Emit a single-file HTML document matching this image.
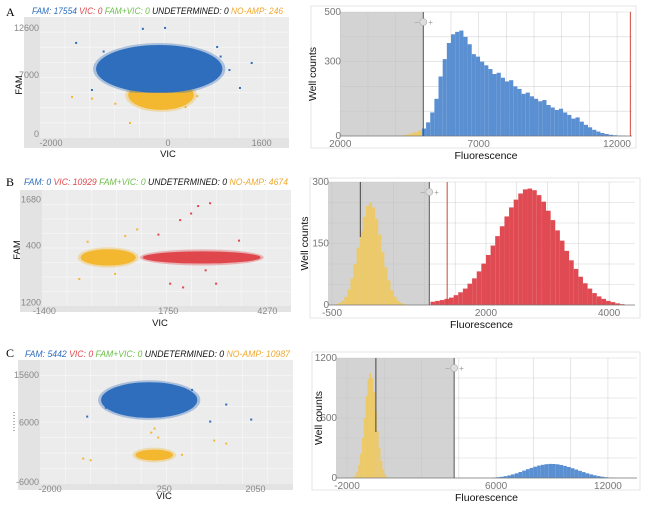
<!DOCTYPE html>
<html><head><meta charset="utf-8">
<style>
body{margin:0;background:#fff;}
svg{display:block;font-family:"Liberation Sans",Arial,sans-serif;}
</style></head>
<body>
<svg id="fig" width="647" height="508" viewBox="0 0 647 508" xmlns="http://www.w3.org/2000/svg">
<text x="6" y="16" font-family="Liberation Serif" font-size="12">A</text>
<text x="6" y="186" font-family="Liberation Serif" font-size="12">B</text>
<text x="6" y="357" font-family="Liberation Serif" font-size="12">C</text>
</svg>
<script>
// ---------- DATA ----------
// Row A scatter
const aTitleCounts = [17554, 0, 0, 0, 246];
const aScXTicks = [-2000, 0, 1600];
const aScYTicks = [0, 7000, 12600];
const aClusterBlue = [-150, 7730, 1080, 2850];   // cx, cy, rx, ry (data units)
const aClusterYellow = [-120, 4640, 560, 1780];
const aOutBlue = [[-1570,10820],[-430,12490],[-50,12600],[1430,8440],[1230,5470],[840,10340],[-1300,5230],[900,9200],[-1100,9800],[1050,7600]];
const aOutYellow = [[-1640,4400],[-650,1310],[-900,3600],[300,3200],[-1300,4200],[500,4500]];
// Row A histogram
const aHistXTicks = [2000, 7000, 12000];
const aHistYTicks = [0, 300, 500];
const aBlueStart = 4950, aBlueWidth = 150;
const aBlueCounts = [30,55,95,150,240,310,375,410,420,425,400,370,330,320,300,285,270,250,255,235,220,225,200,190,170,175,160,150,140,145,125,115,105,110,95,85,70,75,58,45,35,25,18,12,8,5,3,2,1];
const aYelStart = 4200, aYelWidth = 150;
const aYelCounts = [3,6,10,15,22];
// Row B scatter
const bTitleCounts = [0, 10929, 0, 0, 4674];
const bScXTicks = [-1400, 1750, 4270];
const bScYTickVals = [-1200, 400, 1680];
const bScYTickLabels = ["1200", "400", "1680"];
const bClusterYellow = [224, 60, 700, 230];
const bClusterRed = [2600, 60, 1500, 170];
const bOutRed = [[2509,1500],[2813,1579],[2331,1291],[2052,1107],[3549,531],[1798,-674],[2128,-779],[2965,-674],[2700,-300],[1500,700],[3900,100]];
const bOutYellow = [[960,845],[-512,-543],[656,662],[-300,500],[400,-400]];
// Row B histogram
const bHistXTicks = [-500, 2000, 4000];
const bHistYTicks = [0, 150, 300];
const bYelStart = -450, bYelWidth = 50;
const bYelCounts = [2,5,10,20,38,65,100,140,180,215,242,250,238,210,172,130,92,60,36,20,10,5,2,1];
const bRedStart = 1100, bRedWidth = 75;
const bRedCounts = [8,10,12,15,18,24,31,40,52,65,82,101,122,145,168,192,216,238,257,272,282,284,280,268,252,230,207,182,157,132,109,88,69,53,40,29,21,15,10,7,4,2];
// Row C scatter
const cTitleCounts = [5442, 0, 0, 0, 10987];
const cScXTicks = [-2000, 250, 2050];
const cScYTicks = [-6000, 6000, 15600];
const cClusterBlue = [-46, 10550, 950, 3600];
const cClusterYellow = [53, -550, 370, 1100];
const cOutBlue = [[1157,6200],[1473,9640],[1966,6610],[-1269,7210],[-900,9000],[800,12600]];
const cOutYellow = [[-1348,-1270],[1236,2360],[1473,1760],[132,2970],[-6,3970],[60,4800],[-1200,-1600],[600,-500]];
// Row C histogram
const cHistXTicks = [-2000, 6000, 12000];
const cHistYTicks = [0, 600, 1200];
const cYelStart = -1700, cYelWidth = 100;
const cYelCounts = [8,25,60,130,240,400,600,820,990,1050,1000,860,670,470,300,170,85,35,12,4];
const cBlueStart = 5800, cBlueWidth = 200;
const cBlueCounts = [5,8,12,18,26,36,47,60,74,88,101,113,124,132,138,141,140,137,130,121,110,98,85,72,59,47,36,27,19,13,8,5,3];

// ---------- DRAWING ----------
const NS = "http://www.w3.org/2000/svg";
const svg = document.getElementById("fig");
function mk(tag, attrs, parent){
  const e = document.createElementNS(NS, tag);
  for (const k in attrs) e.setAttribute(k, attrs[k]);
  (parent || svg).appendChild(e);
  return e;
}
function lin(d0,d1,r0,r1){ return v => r0 + (v-d0)/(d1-d0)*(r1-r0); }

const COL = {blue:"#2f6dbd", red:"#e0474c", green:"#6cbf4a", yel:"#f3b830", orange:"#f0a830"};

function title(x, y, len, counts, tag){
  const t = mk("text", {x:x, y:y, "font-size":"9", "font-style":"italic", textLength:len, lengthAdjust:"spacingAndGlyphs"});
  
  
  const parts = [["FAM: ",COL.blue],[" VIC: ",COL.red],[" FAM+VIC: ",COL.green],[" UNDETERMINED: ","#111"],[" NO-AMP: ",COL.orange]];
  parts.forEach((p,i)=>{
    const s = mk("tspan", {fill:p[1]}, t);
    s.textContent = p[0] + counts[i];
  });
}

function scatter(cfg){
  const g = mk("g", {});
  
  
  mk("rect", {x:cfg.box[0], y:cfg.box[1], width:cfg.box[2]-cfg.box[0], height:cfg.box[3]-cfg.box[1], fill:"#e3e3e3"}, g);
  const p = cfg.plot;
  mk("rect", {x:p[0], y:p[1], width:p[2]-p[0], height:p[3]-p[1], fill:"#ececec"}, g);
  const sx = lin(cfg.xd[0], cfg.xd[1], p[0], p[2]);
  const sy = lin(cfg.yd[0], cfg.yd[1], p[3], p[1]);
  for (let i=1;i<10;i++){
    const gx = p[0] + (p[2]-p[0])*i/10;
    mk("line", {x1:gx, x2:gx, y1:p[1], y2:p[3], stroke:"#f7f7f7", "stroke-width":0.7}, g);
  }
  for (let i=1;i<8;i++){
    const gy = p[1] + (p[3]-p[1])*i/8;
    mk("line", {x1:p[0], x2:p[2], y1:gy, y2:gy, stroke:"#f7f7f7", "stroke-width":0.7}, g);
  }
  cfg.clusters.forEach(c=>{
    const rx = Math.abs(sx(c.d[0]+c.d[2])-sx(c.d[0])), ry = Math.abs(sy(c.d[1]+c.d[3])-sy(c.d[1]));
    const halo = mk("ellipse", {cx:sx(c.d[0]), cy:sy(c.d[1]), rx:rx+3, ry:ry+2, fill:c.col, opacity:0.35}, g);
    const e = mk("ellipse", {cx:sx(c.d[0]), cy:sy(c.d[1]), rx:rx, ry:ry, fill:c.col}, g);
    
    
    if (c.clipBelow !== undefined){
      const id = "clip" + cfg.tag + c.name;
      const cp = mk("clipPath", {id:id}, g);
      mk("rect", {x:p[0], y:p[1], width:p[2]-p[0], height:sy(c.clipBelow)-p[1]}, cp);
      e.setAttribute("clip-path", "url(#"+id+")");
      halo.setAttribute("clip-path", "url(#"+id+")");
    }
  });
  cfg.outliers.forEach(o=>{
    o.pts.forEach(pt=>{
      const c = mk("rect", {x:sx(pt[0])-1, y:sy(pt[1])-1, width:2, height:2, fill:o.col}, g);
      
      
    });
  });
  cfg.xTicks.forEach(v=>{
    const t = mk("text", {x:sx(v), y:p[3]+8, "font-size":"9", fill:"#888", "text-anchor":"middle"}, g);
    
    
    t.textContent = v;
  });
  cfg.yTicks.forEach((v,i)=>{
    const t = mk("text", {x:p[0]-1, y:sy(v)+3, "font-size":"9", fill:"#888", "text-anchor":"end"}, g);
    
    
    t.textContent = cfg.yLabels ? cfg.yLabels[i] : v;
  });
  const xt = mk("text", {x:cfg.xTitle[0], y:cfg.xTitle[1], "font-size":"9.5", "text-anchor":"middle", fill:"#111"}, g);
  
  
  xt.textContent = "VIC";
  if (cfg.yTitle){
    const yt = mk("text", {x:0, y:0, "font-size":"9.5", "text-anchor":"middle", fill:"#111", transform:"translate("+cfg.yTitle[0]+","+cfg.yTitle[1]+") rotate(-90)"}, g);
    
    
    yt.textContent = "FAM";
  }
}

function hist(cfg){
  const g = mk("g", {});
  
  
  const p = cfg.plot;
  mk("rect", {x:cfg.box[0], y:cfg.box[1], width:cfg.box[2]-cfg.box[0], height:cfg.box[3]-cfg.box[1], fill:"#fff", stroke:"#e6e6e6", "stroke-width":1}, g);
  const sx = lin(cfg.xd[0], cfg.xd[1], p[0], p[2]);
  const sy = lin(0, cfg.ymax, p[3], p[1]);
  const gr = mk("rect", {x:p[0], y:p[1], width:sx(cfg.thresh)-p[0], height:p[3]-p[1], fill:"#d3d3d3"}, g);
  
  
  const step = cfg.gridX;
  for (let v=Math.ceil(cfg.xd[0]/step)*step; v<=cfg.xd[1]; v+=step){
    mk("line", {x1:sx(v), x2:sx(v), y1:p[1], y2:p[3], stroke:"#c4c4c4", "stroke-width":0.6, opacity:0.7}, g);
  }
  for (let v=0; v<=cfg.ymax; v+=cfg.gridY){
    mk("line", {x1:p[0], x2:p[2], y1:sy(v), y2:sy(v), stroke:"#c4c4c4", "stroke-width":0.6, opacity:0.7}, g);
  }
  cfg.series.forEach(s=>{
    s.counts.forEach((c,i)=>{
      const x0 = sx(s.start + i*s.width), x1 = sx(s.start + (i+1)*s.width);
      const r = mk("rect", {x:x0, y:sy(c), width:Math.max(0.5,x1-x0), height:p[3]-sy(c), fill:s.col}, g);
      
      
    });
  });
  mk("line", {x1:p[0], x2:p[2], y1:p[3], y2:p[3], stroke:"#777", "stroke-width":0.8}, g);
  const tl = mk("line", {x1:sx(cfg.thresh), x2:sx(cfg.thresh), y1:p[1], y2:p[3], stroke:"#555", "stroke-width":1}, g);
  
  
  if (cfg.black !== undefined){
    mk("line", {x1:sx(cfg.black), x2:sx(cfg.black), y1:p[1], y2:cfg.blackEnd, stroke:"#444", "stroke-width":1}, g);
  }
  if (cfg.red !== undefined){
    const rl = mk("line", {x1:sx(cfg.red), x2:sx(cfg.red), y1:p[1], y2:p[3], stroke:"#d0463a", "stroke-width":1}, g);
    
    
  }
  const hx = sx(cfg.thresh), hy = p[1]+10;
  const hc = mk("circle", {cx:hx, cy:hy, r:3.5, fill:"#ddd", stroke:"#aaa", "stroke-width":0.6}, g);
  
  
  const hm = mk("text", {x:hx-9, y:hy+3, "font-size":"8", fill:"#999"}, g); hm.textContent = "−";
  const hp = mk("text", {x:hx+5, y:hy+3, "font-size":"8", fill:"#999"}, g); hp.textContent = "+";
  cfg.xTicks.forEach(v=>{
    const t = mk("text", {x:sx(v), y:p[3]+11, "font-size":"10", fill:"#777", "text-anchor":"middle"}, g);
    
    
    t.textContent = v;
  });
  cfg.yTicks.forEach(v=>{
    const t = mk("text", {x:p[0]+1, y:sy(v)+3, "font-size":"10", fill:"#777", "text-anchor":"end"}, g);
    
    
    t.textContent = v;
  });
  const xt = mk("text", {x:(p[0]+p[2])/2, y:p[3]+23, "font-size":"10.5", "text-anchor":"middle", fill:"#111"}, g);
  
  
  xt.textContent = "Fluorescence";
  const yt = mk("text", {x:0, y:0, "font-size":"10.5", "text-anchor":"middle", fill:"#111", transform:"translate("+cfg.yTitleX+","+((p[1]+p[3])/2)+") rotate(-90)"}, g);
  
  
  yt.textContent = "Well counts";
}

// Row A
title(32, 14, 251, aTitleCounts, "a");
scatter({tag:"a", box:[24,17,289,148], plot:[40,17,289,138], xd:[-2188,2068], yd:[-476,13900],
  xTicks:aScXTicks, yTicks:aScYTicks, xTitle:[168,157], yTitle:[22,85],
  clusters:[{name:"no-amp",d:aClusterYellow,col:COL.yel},{name:"fam",d:aClusterBlue,col:COL.blue,clipBelow:4900}],
  outliers:[{name:"fam",pts:aOutBlue,col:COL.blue},{name:"no-amp",pts:aOutYellow,col:COL.yel}]});
hist({tag:"a", box:[311,6,636,148], plot:[340,12,632,136], xd:[1990,12540], ymax:500, thresh:5000, red:12480,
  gridX:1000, gridY:100, xTicks:aHistXTicks, yTicks:aHistYTicks, yTitleX:316,
  series:[{name:"no-amp",start:aYelStart,width:aYelWidth,counts:aYelCounts,col:"#ecc969"},
          {name:"fam",start:aBlueStart,width:aBlueWidth,counts:aBlueCounts,col:"#5a8fd2"}]});
// Row B
title(24, 185, 264, bTitleCounts, "b");
scatter({tag:"b", box:[20,190,291,312], plot:[42,190,291,306], xd:[-1460,4870], yd:[-1300,1950],
  xTicks:bScXTicks, yTicks:bScYTickVals, yLabels:bScYTickLabels, xTitle:[160,326], yTitle:[20,250],
  clusters:[{name:"no-amp",d:bClusterYellow,col:COL.yel},{name:"vic",d:bClusterRed,col:COL.red}],
  outliers:[{name:"vic",pts:bOutRed,col:COL.red},{name:"no-amp",pts:bOutYellow,col:COL.yel}]});
hist({tag:"b", box:[310,178,640,318], plot:[328,182,635,305], xd:[-565,4420], ymax:300, thresh:1080, red:1370,
  black:-40, blackEnd:237, gridX:500, gridY:50, xTicks:bHistXTicks, yTicks:bHistYTicks, yTitleX:308,
  series:[{name:"no-amp",start:bYelStart,width:bYelWidth,counts:bYelCounts,col:"#ecc969"},
          {name:"vic",start:bRedStart,width:bRedWidth,counts:bRedCounts,col:"#e04a52"}]});
// Row C
title(25, 357, 265, cTitleCounts, "c");
scatter({tag:"c", box:[18,360,293,490], plot:[40,360,293,484], xd:[-2200,2790], yd:[-6400,18630],
  xTicks:cScXTicks, yTicks:cScYTicks, xTitle:[164,499], yTitle:null,
  clusters:[{name:"fam",d:cClusterBlue,col:COL.blue},{name:"no-amp",d:cClusterYellow,col:COL.yel}],
  outliers:[{name:"fam",pts:cOutBlue,col:COL.blue},{name:"no-amp",pts:cOutYellow,col:COL.yel}]});
hist({tag:"c", box:[312,352,640,490], plot:[336,358,637,478], xd:[-2590,13560], ymax:1200, thresh:3750,
  black:-450, blackEnd:432, gridX:2000, gridY:200, xTicks:cHistXTicks, yTicks:cHistYTicks, yTitleX:322,
  series:[{name:"no-amp",start:cYelStart,width:cYelWidth,counts:cYelCounts,col:"#ecc969"},
          {name:"fam",start:cBlueStart,width:cBlueWidth,counts:cBlueCounts,col:"#5a8fd2"}]});
mk("line", {x1:14, x2:14, y1:412, y2:432, stroke:"#444", "stroke-width":0.8, "stroke-dasharray":"1,2"});
</script>
</body></html>
